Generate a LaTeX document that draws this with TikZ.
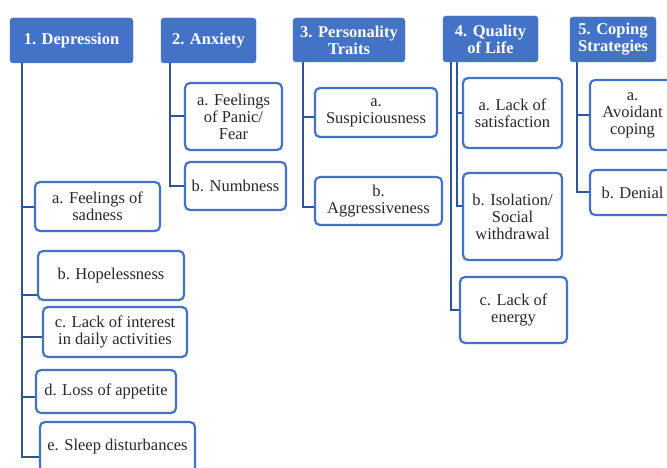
\documentclass[tikz,border=0pt]{standalone}
\usepackage{fontspec}
\setmainfont{Liberation Serif}
\usepackage{xcolor}
\usepackage{tikz}
\usetikzlibrary{positioning}
\definecolor{headblue}{RGB}{68,114,196}
\definecolor{lineblue}{RGB}{47,85,151}
\definecolor{itemtext}{RGB}{40,40,40}

\begin{document}
\begin{tikzpicture}[x=1pt,y=-1pt]
			\tikzstyle{HeadStyle} = [shape = rectangle, rounded corners = 3pt, fill = headblue, draw = headblue, text = white, font = \fontsize{16.5}{17}\selectfont\bfseries, align = center, inner sep = 0pt]
			\tikzstyle{ItemStyle} = [shape = rectangle, rounded corners = 5pt, fill = white, draw = headblue, line width = 2.2pt, text = itemtext, font = \fontsize{16.5}{17}\selectfont, align = center, inner sep = 0pt]
			\tikzstyle{LinkStyle} = [draw = lineblue, line width = 2pt]
			\useasboundingbox[fill = white] (0,0) rectangle (667,468);
			% headers
			\node[HeadStyle, minimum width = 123pt, minimum height = 45pt] (Dep) at (71.5,40.5) {1. Depression};
			\node[HeadStyle, minimum width = 95pt, minimum height = 45pt] (Anx) at (208.5,40.5) {2. Anxiety};
			\node[HeadStyle, minimum width = 112pt, minimum height = 44pt] (Pers) at (349,40) {3. Personality\\Traits};
			\node[HeadStyle, minimum width = 95pt, minimum height = 46pt] (Qual) at (490.5,39) {4. Quality\\of Life};
			\node[HeadStyle, minimum width = 86pt, minimum height = 45pt] (Cop) at (613,39.5) {5. Coping\\Strategies};
			% items
			\node[ItemStyle, minimum width = 125pt, minimum height = 49pt] (DepA) at (97.5,206.5) {a. Feelings of\\sadness};
			\node[ItemStyle, minimum width = 146pt, minimum height = 49pt] (DepB) at (111,275.5) {b. Hopelessness};
			\node[ItemStyle, minimum width = 144pt, minimum height = 50pt] (DepC) at (115,332) {c. Lack of interest\\in daily activities};
			\node[ItemStyle, minimum width = 140pt, minimum height = 43pt] (DepD) at (106,391.5) {d. Loss of appetite};
			\node[ItemStyle, minimum width = 155pt, minimum height = 50pt] (DepE) at (117.5,447) {e. Sleep disturbances};
			\node[ItemStyle, minimum width = 97pt, minimum height = 67pt] (AnxA) at (233.5,116.5) {a. Feelings\\of Panic/\\Fear};
			\node[ItemStyle, minimum width = 101pt, minimum height = 48pt] (AnxB) at (235.5,186) {b. Numbness};
			\node[ItemStyle, minimum width = 122pt, minimum height = 49pt] (PersA) at (376,112.5) {a.\\Suspiciousness};
			\node[ItemStyle, minimum width = 127pt, minimum height = 48pt] (PersB) at (378.5,201) {b.\\Aggressiveness};
			\node[ItemStyle, minimum width = 99pt, minimum height = 70pt] (QualA) at (512.5,113) {a. Lack of\\satisfaction};
			\node[ItemStyle, minimum width = 99pt, minimum height = 87pt] (QualB) at (512.5,216.5) {b. Isolation/\\Social\\withdrawal};
			\node[ItemStyle, minimum width = 107pt, minimum height = 66pt] (QualC) at (513.5,310) {c. Lack of\\energy};
			\node[ItemStyle, minimum width = 85pt, minimum height = 70pt] (CopA) at (632.5,115) {a.\\Avoidant\\coping};
			\node[ItemStyle, minimum width = 85pt, minimum height = 45pt] (CopB) at (632.5,192.5) {b. Denial};
			% connectors
			\draw[LinkStyle] ([xshift=12pt]Dep.south west) |- (DepA.west);
			\draw[LinkStyle] ([xshift=12pt]Dep.south west) |- ([yshift=-19pt]DepB.west);
			\draw[LinkStyle] ([xshift=12pt]Dep.south west) |- ([yshift=-5pt]DepC.west);
			\draw[LinkStyle] ([xshift=12pt]Dep.south west) |- ([yshift=-5pt]DepD.west);
			\draw[LinkStyle] ([xshift=12pt]Dep.south west) |- ([yshift=-10pt]DepE.west);
			\draw[LinkStyle] ([xshift=9pt]Anx.south west) |- (AnxA.west);
			\draw[LinkStyle] ([xshift=9pt]Anx.south west) |- (AnxB.west);
			\draw[LinkStyle] ([xshift=10pt]Pers.south west) |- ([yshift=-5pt]PersA.west);
			\draw[LinkStyle] ([xshift=10pt]Pers.south west) |- ([yshift=-6pt]PersB.west);
			\draw[LinkStyle] ([xshift=14pt]Qual.south west) |- (QualA.west);
			\draw[LinkStyle] ([xshift=14pt]Qual.south west) |- ([yshift=11pt]QualB.west);
			\draw[LinkStyle] ([xshift=8pt]Qual.south west) |- (QualC.west);
			\draw[LinkStyle] ([xshift=7pt]Cop.south west) |- (CopA.west);
			\draw[LinkStyle] ([xshift=7pt]Cop.south west) |- (CopB.west);
		\end{tikzpicture}
\end{document}
